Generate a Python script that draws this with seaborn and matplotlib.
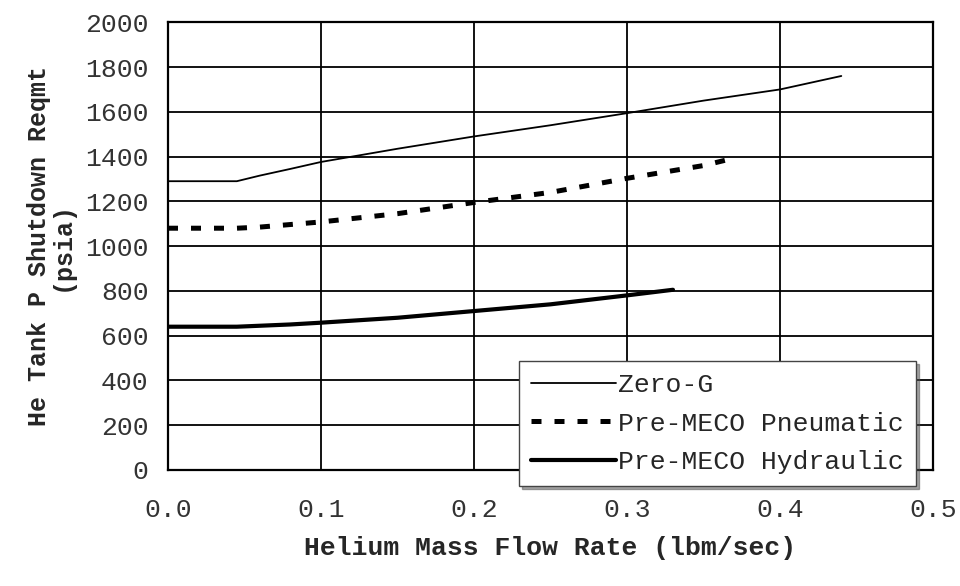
import matplotlib

matplotlib.use("Agg")
import matplotlib.pyplot as plt
import pandas as pd
import seaborn as sns

# values
zero_g_x = [0.0, 0.045, 0.06, 0.08, 0.1, 0.15, 0.2, 0.25, 0.3, 0.35, 0.4, 0.44]
zero_g_y = [1290, 1290, 1315, 1345, 1376, 1435, 1490, 1540, 1594, 1650, 1700, 1760]

pneu_x = [0.0, 0.045, 0.06, 0.1, 0.15, 0.2, 0.25, 0.3, 0.35, 0.365]
pneu_y = [1080, 1080, 1085, 1108, 1145, 1195, 1240, 1303, 1360, 1385]

hyd_x = [0.0, 0.045, 0.08, 0.1, 0.15, 0.2, 0.25, 0.3, 0.33]
hyd_y = [640, 640, 650, 658, 680, 710, 740, 780, 805]

labels = ["Zero-G", "Pre-MECO Pneumatic", "Pre-MECO Hydraulic"]
x_ticks = [0.0, 0.1, 0.2, 0.3, 0.4, 0.5]
y_ticks = [0, 200, 400, 600, 800, 1000, 1200, 1400, 1600, 1800, 2000]

sns.set_style("white")
plt.rcParams["font.family"] = ["Liberation Mono", "DejaVu Sans Mono"]

fig = plt.figure(figsize=(9.6, 5.86), dpi=100)
ax = fig.add_axes([0.175, 0.198, 0.797, 0.764])

df_z = pd.DataFrame({"x": zero_g_x, "y": zero_g_y})
df_p = pd.DataFrame({"x": pneu_x, "y": pneu_y})
df_h = pd.DataFrame({"x": hyd_x, "y": hyd_y})

sns.lineplot(data=df_z, x="x", y="y", ax=ax, color="black", linewidth=1.3,
             label=labels[0], zorder=3)
sns.lineplot(data=df_p, x="x", y="y", ax=ax, color="black", linewidth=3.6,
             label=labels[1], zorder=3)
sns.lineplot(data=df_h, x="x", y="y", ax=ax, color="black", linewidth=3.0,
             label=labels[2], zorder=3)
ax.lines[1].set_dashes((2.0, 2.6))
ax.lines[1].set_dash_capstyle("butt")

ax.set_xlim(0, 0.5)
ax.set_ylim(0, 2000)
ax.set_xticks(x_ticks)
ax.set_xticklabels([f"{v:.1f}" for v in x_ticks])
ax.set_yticks(y_ticks)
ax.set_yticklabels([str(v) for v in y_ticks])
ax.tick_params(axis="both", length=0, labelsize=19, colors="#333333")
ax.tick_params(axis="x", pad=20)
ax.tick_params(axis="y", pad=14)
ax.grid(True, color="black", linewidth=1.3)
ax.set_axisbelow(True)
for sp in ax.spines.values():
    sp.set_color("black")
    sp.set_linewidth(1.6)

ax.set_xlabel("Helium Mass Flow Rate (lbm/sec)", fontsize=19, fontweight="bold",
              labelpad=10)
ax.set_ylabel("He Tank P Shutdown Reqmt\n(psia)", fontsize=18, fontweight="bold",
              labelpad=8, linespacing=0.95)

leg = ax.legend(loc="lower left", bbox_to_anchor=(0.459, -0.036), fontsize=19,
                frameon=True, fancybox=False, shadow=True, handlelength=3.2,
                handletextpad=0.1, labelspacing=0.55, borderpad=0.45,
                borderaxespad=0)
leg.get_frame().set_edgecolor("#444444")
leg.get_frame().set_linewidth(1.0)
leg.set_zorder(5)

fig.savefig("out.png", dpi=100)
